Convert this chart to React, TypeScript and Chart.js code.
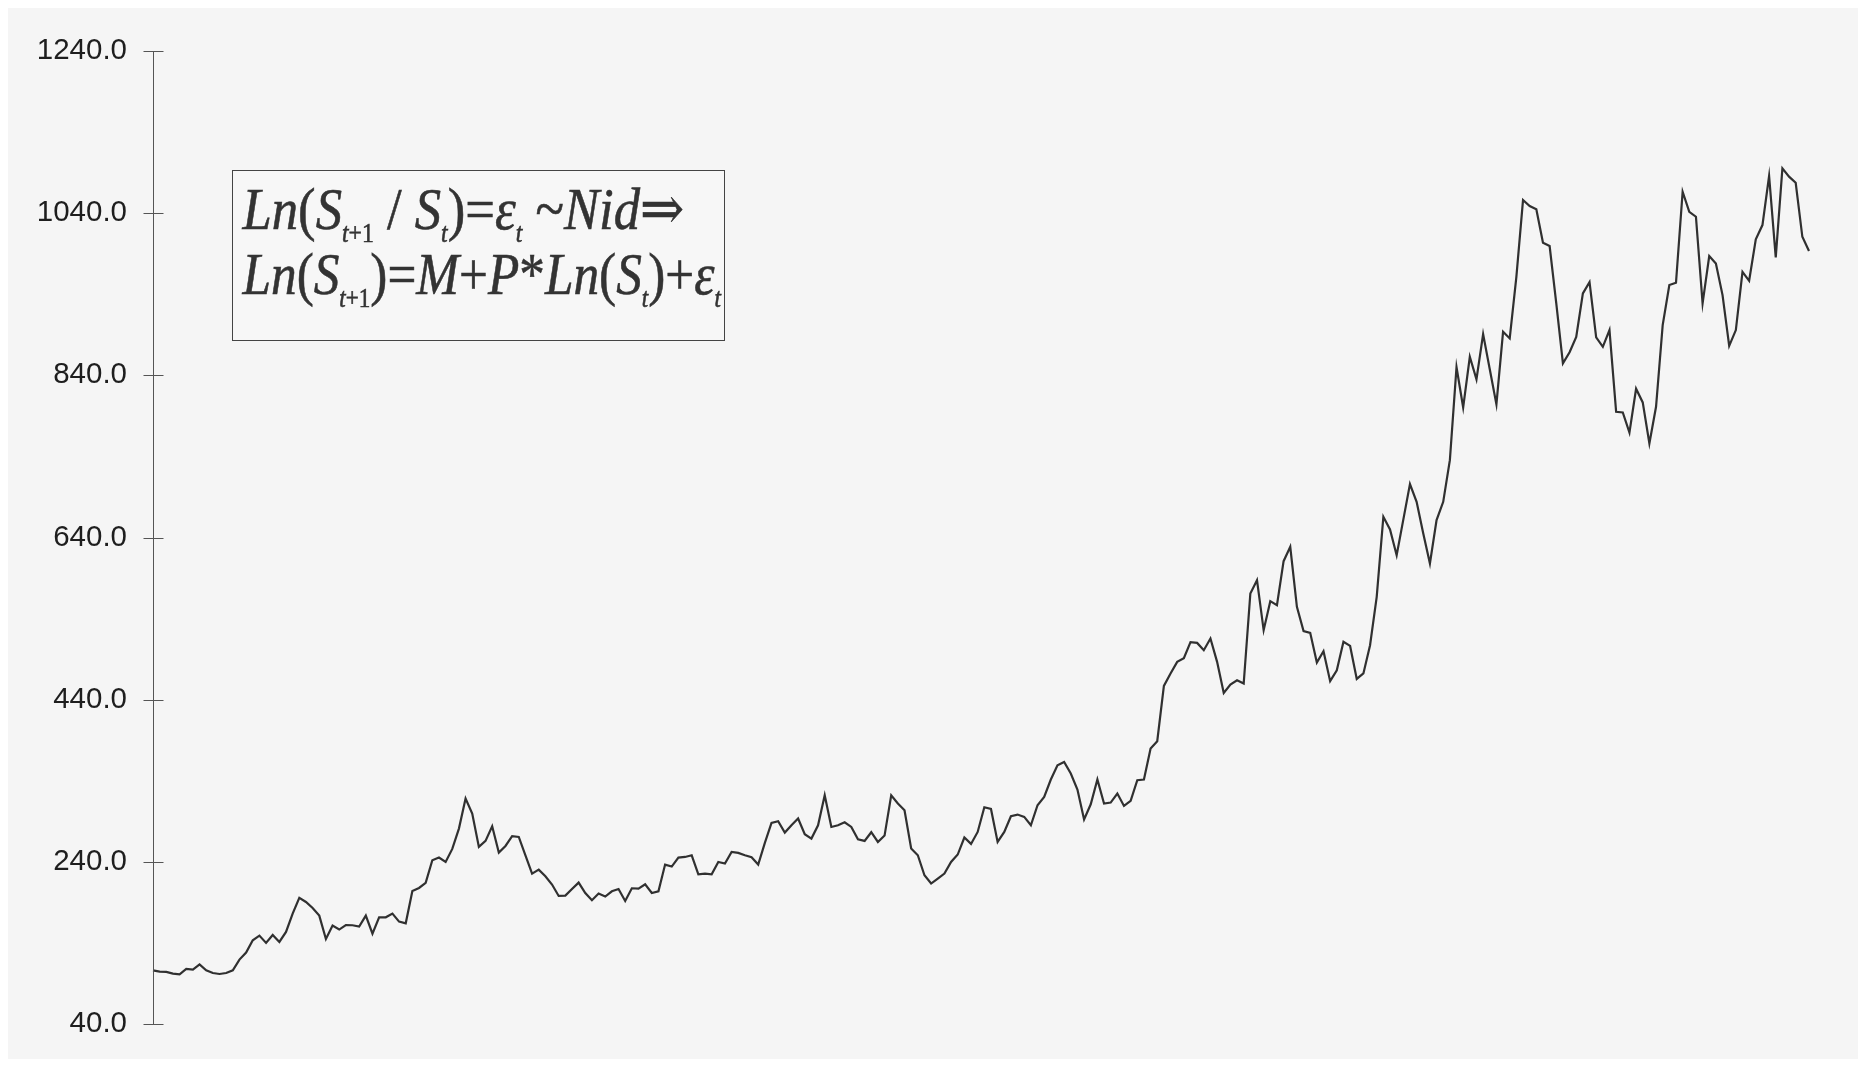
import React, { useEffect, useRef } from "react";
import { Chart, registerables } from "chart.js";

Chart.register(...registerables);

// Price series (250 periods), split into blocks of 50
const pricesBlock1 = [
  106.2, 104.6, 104.2, 102.2, 101.3, 107.9, 107.1, 113.6, 106.2, 102.9,
  101.7, 102.9, 106.2, 119.4, 128.1, 143.3, 149.0, 140.0, 149.8, 141.2,
  153.5, 176.2, 195.5, 190.5, 183.1, 173.7, 144.9, 161.4, 156.5, 162.1,
  161.8, 160.1, 173.7, 151.5, 171.6, 171.6, 176.2, 166.3, 164.2, 204.1,
  207.8, 214.0, 242.0, 245.3, 239.9, 255.9, 281.0, 318.1, 299.6, 258.4,
];
const pricesBlock2 = [
  265.8, 283.9, 251.4, 259.6, 271.6, 270.7, 248.1, 225.5, 230.4, 222.2,
  212.0, 197.9, 198.3, 206.5, 214.4, 201.6, 192.6, 200.9, 197.2, 203.7,
  206.5, 191.7, 207.4, 207.0, 212.3, 201.6, 203.7, 236.6, 234.2, 245.3,
  246.0, 248.1, 224.7, 225.5, 224.7, 239.9, 237.9, 252.2, 251.0, 248.1,
  245.6, 236.6, 263.3, 288.0, 290.1, 276.1, 285.1, 293.4, 274.0, 268.7,
];
const pricesBlock3 = [
  285.1, 322.1, 283.0, 285.1, 288.8, 283.0, 267.9, 265.8, 276.5, 264.5,
  272.4, 322.1, 311.9, 303.6, 256.4, 248.1, 223.4, 213.2, 219.4, 225.5,
  239.9, 249.0, 270.0, 262.1, 276.9, 307.3, 305.2, 264.5, 276.9, 296.2,
  298.3, 295.4, 285.1, 309.8, 320.0, 341.5, 359.1, 363.2, 348.9, 329.2,
  292.2, 311.0, 341.5, 311.9, 313.1, 324.2, 308.9, 315.1, 340.6, 341.5,
];
const pricesBlock4 = [
  379.8, 388.8, 457.0, 472.3, 486.6, 491.2, 510.9, 510.0, 501.0, 515.4,
  486.6, 448.3, 458.7, 464.0, 459.9, 571.0, 587.4, 525.7, 561.5, 556.5,
  610.8, 628.5, 554.4, 524.5, 522.4, 485.8, 499.8, 462.8, 476.3, 511.3,
  506.3, 465.6, 472.3, 507.2, 566.8, 665.5, 650.0, 618.2, 662.0, 705.8,
  684.0, 645.0, 608.0, 661.4, 684.0, 735.4, 850.0, 800.4, 862.9, 835.0,
];
const pricesBlock5 = [
  890.9, 847.5, 804.1, 893.7, 885.5, 961.5, 1056.2, 1048.8, 1044.7, 1003.5,
  999.4, 928.7, 854.7, 868.5, 887.5, 941.0, 955.0, 886.8, 875.2, 895.8,
  795.0, 794.2, 769.4, 823.5, 806.6, 756.0, 801.2, 902.0, 951.3, 954.2,
  1066.4, 1041.7, 1035.6, 928.7, 987.1, 978.0, 939.0, 876.4, 895.8, 967.7,
  956.6, 1007.7, 1025.3, 1085.8, 985.5, 1095.3, 1085.0, 1077.5, 1010.9, 993.3,
];

const yTicks = [40, 240, 440, 640, 840, 1040, 1240];

type Seg = [string, "i" | "r" | "si" | "sr"];
const formulaLine1: Seg[] = [
  ["Ln", "i"], ["(", "r"], ["S", "i"], ["t", "si"], ["+1", "sr"], [" / ", "r"],
  ["S", "i"], ["t", "si"], [")", "r"], ["=", "r"], ["ε", "i"], ["t", "si"],
  [" ~", "r"], ["Nid", "i"], ["⇒", "r"],
];
const formulaLine2: Seg[] = [
  ["Ln", "i"], ["(", "r"], ["S", "i"], ["t", "si"], ["+1", "sr"], [")", "r"],
  ["=", "r"], ["M", "i"], ["+", "r"], ["P", "i"], ["*", "r"], ["Ln", "i"],
  ["(", "r"], ["S", "i"], ["t", "si"], [")", "r"], ["+", "r"], ["ε", "i"], ["t", "si"],
];

const prices = [...pricesBlock1, ...pricesBlock2, ...pricesBlock3, ...pricesBlock4, ...pricesBlock5];
const periods = prices.map((_, i) => String(i + 1));

const SERIF = '"Liberation Serif", "Times New Roman", "DejaVu Serif", serif';
const SANS = '"Liberation Sans", Arial, Helvetica, sans-serif';

function drawFormula(ctx: CanvasRenderingContext2D, segs: Seg[], x: number, baseline: number, targetW: number) {
  const big = 60;
  const small = 27;
  const fontFor = (k: string) =>
    k === "i" ? `italic ${big}px ${SERIF}` :
    k === "r" ? `${big}px ${SERIF}` :
    k === "si" ? `italic ${small}px ${SERIF}` : `${small}px ${SERIF}`;
  let total = 0;
  const widths = segs.map(([t, k]) => {
    ctx.font = fontFor(k);
    const w = ctx.measureText(t).width;
    total += w;
    return w;
  });
  const sx = targetW / total;
  ctx.save();
  ctx.translate(x, baseline);
  ctx.scale(sx, 1);
  ctx.lineWidth = 0.6;
  ctx.strokeStyle = ctx.fillStyle as string;
  let cx = 0;
  segs.forEach(([t, k], i) => {
    ctx.font = fontFor(k);
    const dy = k === "si" || k === "sr" ? 13 : 0;
    ctx.fillText(t, cx, dy);
    ctx.strokeText(t, cx, dy);
    cx += widths[i];
  });
  ctx.restore();
}

const overlayPlugin = {
  id: "overlay",
  afterDraw(chart: any) {
    const { ctx, chartArea, scales } = chart;
    const y = scales.y;
    const axisX = Math.round(chartArea.left) + 0.5;
    ctx.save();
    ctx.strokeStyle = "#555555";
    ctx.lineWidth = 1;
    ctx.beginPath();
    ctx.moveTo(axisX, Math.round(y.getPixelForValue(yTicks[yTicks.length - 1])) + 0.5);
    ctx.lineTo(axisX, Math.round(y.getPixelForValue(yTicks[0])) + 0.5);
    yTicks.forEach((v) => {
      const py = Math.round(y.getPixelForValue(v)) + 0.5;
      ctx.moveTo(axisX - 10, py);
      ctx.lineTo(axisX + 10, py);
    });
    ctx.stroke();

    // formula box
    const bx = Math.round(chartArea.left + 78.7) + 0.5;
    const by = Math.round(chartArea.top + 119) + 0.5;
    const bw = 492;
    const bh = 170;
    ctx.fillStyle = "#f7f7f7";
    ctx.fillRect(bx, by, bw, bh);
    ctx.strokeStyle = "#444444";
    ctx.strokeRect(bx, by, bw, bh);
    ctx.fillStyle = "#333333";
    ctx.textAlign = "left";
    ctx.textBaseline = "alphabetic";
    drawFormula(ctx, formulaLine1, bx + 10, by + 58.3, 441.6);
    drawFormula(ctx, formulaLine2, bx + 10, by + 123.3, 478.3);
    ctx.restore();
  },
};

export default function App() {
  const canvasRef = useRef<HTMLCanvasElement | null>(null);

  useEffect(() => {
    if (!canvasRef.current) return;
    const chart = new Chart(canvasRef.current, {
      type: "line",
      data: {
        labels: periods,
        datasets: [
          {
            data: prices,
            borderColor: "#303030",
            borderWidth: 2.2,
            pointRadius: 0,
            pointHoverRadius: 0,
            tension: 0,
            fill: false,
          },
        ],
      },
      options: {
        responsive: false,
        animation: false,
        devicePixelRatio: 1,
        layout: { padding: { top: 43, bottom: 35, right: 49, left: 0 } },
        plugins: {
          legend: { display: false },
          tooltip: { enabled: false },
        },
        scales: {
          x: {
            type: "category",
            display: false,
            offset: false,
            ticks: { display: false },
          },
          y: {
            min: 40,
            max: 1240,
            afterFit: (s: any) => {
              s.width = 145;
            },
            afterBuildTicks: (s: any) => {
              s.ticks = yTicks.map((v) => ({ value: v }));
            },
            ticks: {
              callback: (v: any) => Number(v).toFixed(1),
              font: { family: SANS, size: 29.5 },
              color: "#1e1e1e",
              padding: 0,
            },
            grid: { display: false, drawTicks: true, tickLength: 26 },
            border: { display: false },
          },
        },
      },
      plugins: [overlayPlugin],
    } as any);
    return () => chart.destroy();
  }, []);

  return (
    <div style={{ width: 1850, height: 1051, background: "#f5f5f5" }}>
      <canvas ref={canvasRef} width={1850} height={1051} style={{ display: "block" }} />
    </div>
  );
}
